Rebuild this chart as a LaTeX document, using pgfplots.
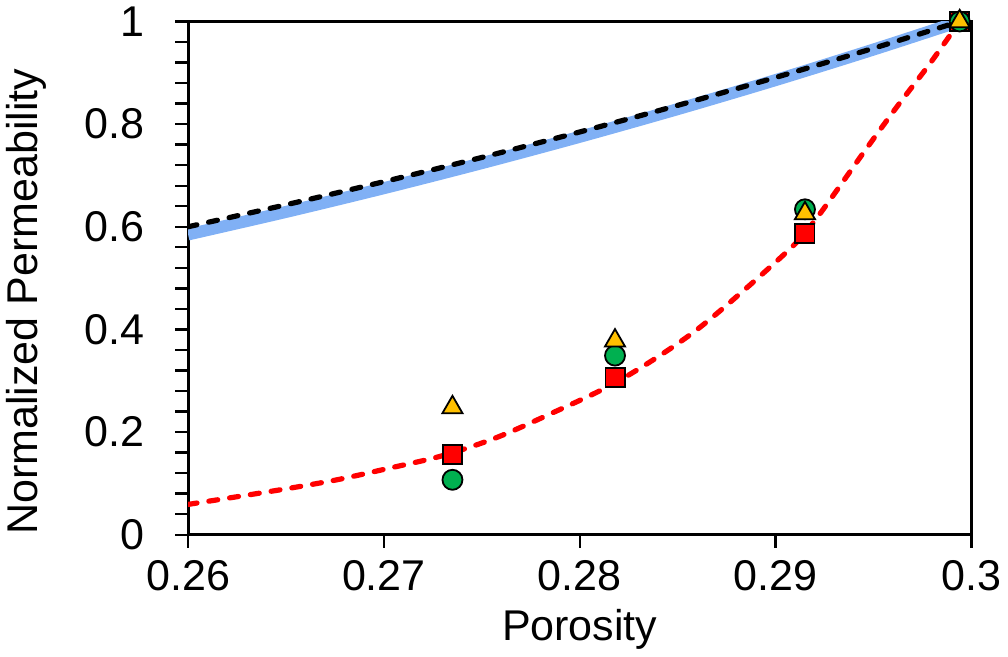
\documentclass[border=0pt]{standalone}
\usepackage{fontspec}
\setmainfont{Liberation Sans}
\usepackage{pgfplots}
\pgfplotsset{compat=1.18}
\definecolor{bandblue}{RGB}{128,176,245}
\definecolor{mkgreen}{RGB}{0,176,80}
\definecolor{mkyellow}{RGB}{255,192,0}
\begin{document}
\begin{tikzpicture}
\begin{axis}[
    width=391.5pt, height=256.5pt,
    scale only axis,
    xmin=0.26, xmax=0.3, ymin=0, ymax=1,
    xtick={0.26,0.27,0.28,0.29,0.3},
    xticklabels={0.26,0.27,0.28,0.29,0.3},
    ytick={0,0.2,0.4,0.6,0.8,1},
    yticklabels={0,0.2,0.4,0.6,0.8,1},
    minor y tick num=4,
    tick pos=left,
    tick align=outside,
    major tick length=6.5pt,
    minor tick length=6.5pt,
    every tick/.style={black, line width=1.2pt},
    axis line style={line width=1.5pt},
    tick label style={font=\fontsize{21.5}{25}\selectfont},
    label style={font=\fontsize{21.5}{25}\selectfont},
    yticklabel style={xshift=-12pt},
    xticklabel style={yshift=-3pt},
    /pgf/number format/assume math mode=true,
    xlabel={Porosity},
    ylabel={Normalized Permeability},
    xlabel style={at={(axis description cs:0.5,-0.185)}, anchor=center},
    ylabel style={at={(axis description cs:-0.206,0.454)}, anchor=center},
    clip mode=individual,
]
% blue band
\addplot[bandblue, line width=6pt, smooth] coordinates {
(0.26,0.585) (0.265,0.6289) (0.27,0.6752) (0.275,0.7240) (0.28,0.7753)
(0.285,0.8292) (0.29,0.8858) (0.295,0.9453) (0.2994,1.0)};
% black dashed
\addplot[black, line width=2.6pt, line cap=round, dash pattern=on 4.5pt off 6pt, smooth] coordinates {
(0.26,0.600) (0.265,0.6429) (0.27,0.6879) (0.275,0.7351) (0.28,0.7847)
(0.285,0.8365) (0.29,0.8909) (0.295,0.9478) (0.2994,1.0)};
% red dashed
\addplot[red, line width=2.6pt, line cap=round, dash pattern=on 4.5pt off 6pt, smooth] coordinates {
(0.26,0.059) (0.2625,0.074) (0.2651,0.090) (0.2676,0.107) (0.2702,0.129)
(0.2729,0.153) (0.2756,0.187) (0.2783,0.232) (0.282,0.300) (0.286,0.400)
(0.2906,0.552) (0.2921,0.617) (0.2945,0.745) (0.2962,0.834) (0.2979,0.919)
(0.2994,1.0)};
% squares
\addplot[only marks, mark=square*, mark size=4.8pt,
    mark options={fill=red, draw=black, line width=0.9pt}] coordinates {
(0.2735,0.156) (0.2818,0.306) (0.2915,0.587) (0.2994,1.0)};
% circles
\addplot[only marks, mark=*, mark size=5pt,
    mark options={fill=mkgreen, draw=black, line width=0.9pt}] coordinates {
(0.2735,0.107) (0.2818,0.349) (0.2915,0.634) (0.2994,1.0)};
% triangles
\addplot[only marks, mark=triangle*, mark size=5.8pt,
    mark options={fill=mkyellow, draw=black, line width=0.9pt}] coordinates {
(0.2735,0.248) (0.2818,0.378) (0.2915,0.626) (0.2994,1.0)};
\end{axis}
\end{tikzpicture}
\end{document}
